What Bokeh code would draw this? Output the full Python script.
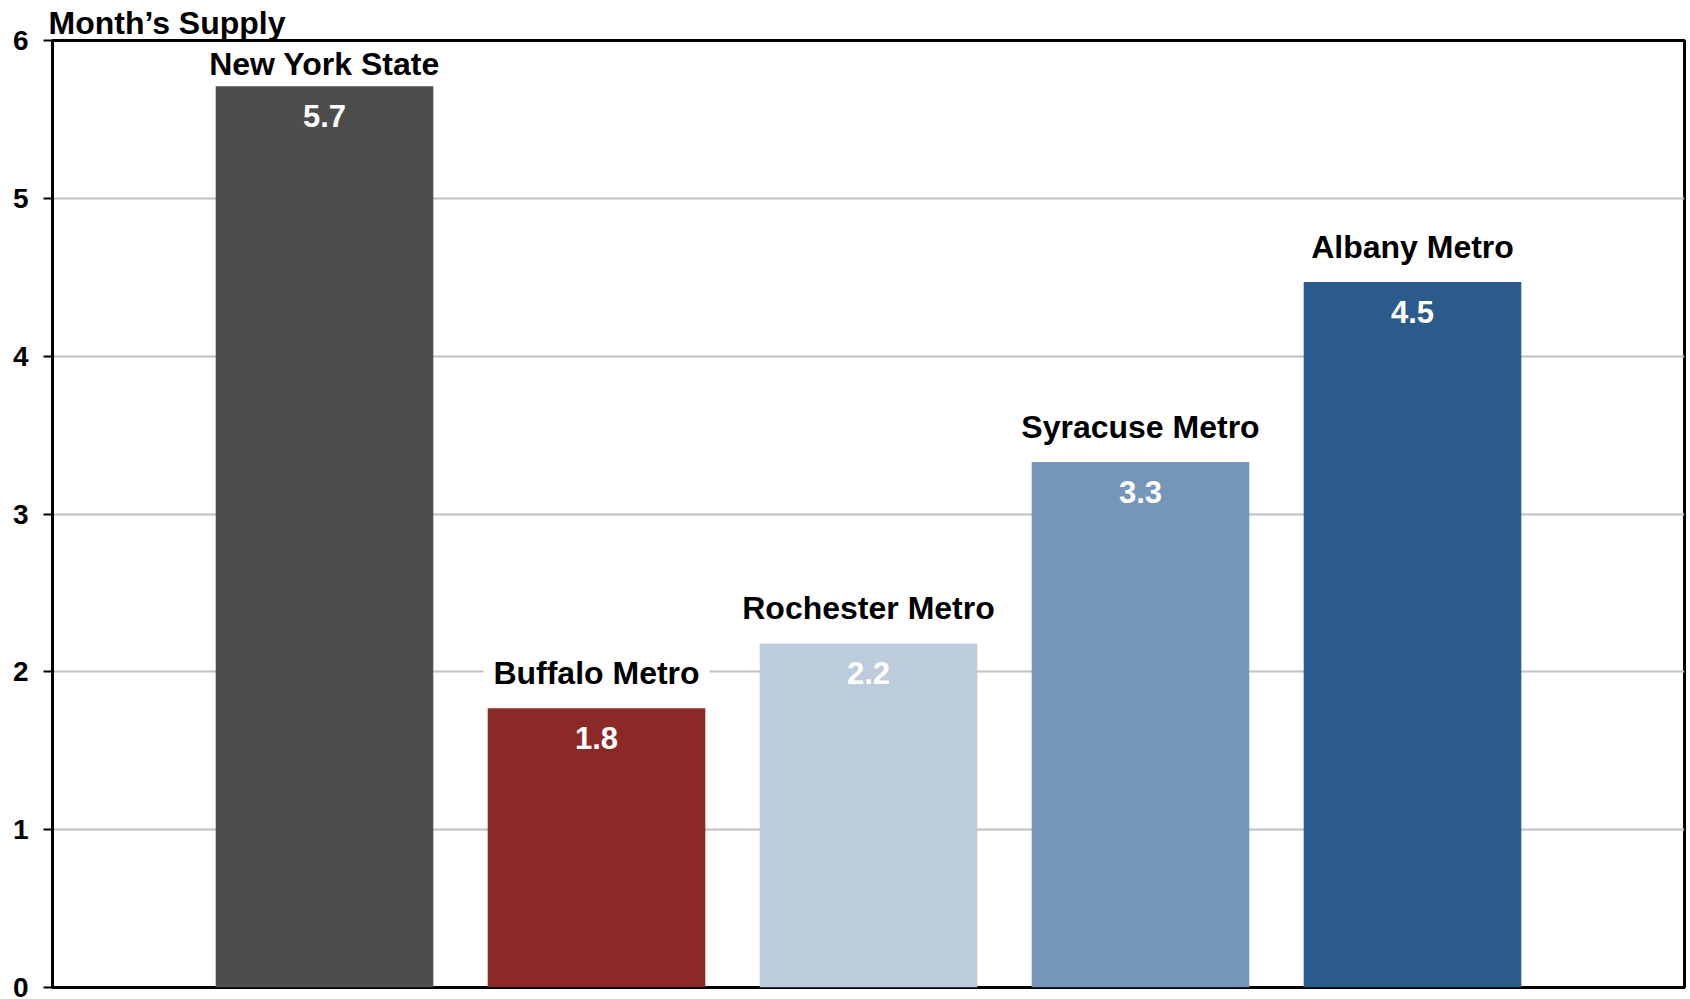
import numpy as np
from bokeh.plotting import figure
from bokeh.models import ColumnDataSource, LabelSet, Range1d, FixedTicker
from bokeh.core.properties import value
from bokeh.embed import file_html
from bokeh.resources import INLINE

# ---- data ----
categories = ["New York State", "Buffalo Metro", "Rochester Metro", "Syracuse Metro", "Albany Metro"]
supply = [5.71, 1.77, 2.18, 3.33, 4.47]
colors = ["#4d4d4d", "#8b2929", "#bdccdd", "#7596b8", "#2a5b8c"]
y_ticks = [0, 1, 2, 3, 4, 5, 6]
title_text = "Month\u2019s Supply"

FONT = "Liberation Sans"
W, H = 1688, 997
MB_L, MB_T, MB_R, MB_B = 52, 40, 4, 10
Y0, Y1 = 0, 6

vals = np.array(supply)
xs = np.arange(1, len(categories) + 1)
frame_h = H - MB_T - MB_B
px = (Y1 - Y0) / frame_h
label_y = np.minimum(vals + 35 * px, Y1 - 23 * px)

src = ColumnDataSource(dict(
    x=xs, top=vals, color=colors, cat=categories,
    label_y=label_y, txt=[f"{v:.1f}" for v in vals],
))

p = figure(width=W, height=H, x_range=Range1d(0, len(categories) + 1), y_range=Range1d(Y0, Y1),
           output_backend="svg", toolbar_location=None, title=title_text,
           min_border_left=MB_L, min_border_top=MB_T, min_border_right=MB_R, min_border_bottom=MB_B)

p.title.text_font = FONT
p.title.text_font_style = "bold"
p.title.text_font_size = "32px"
p.title.text_color = "black"
p.title.align = "left"
p.title.offset = -4
p.title.standoff = 0

# category labels first (white box hides gridlines), bars drawn on top of them
p.text(x="x", y="label_y", text="cat", source=src,
       text_align="center", text_baseline="alphabetic",
       text_font=value(FONT), text_font_style="bold", text_font_size="32px",
       text_color="black", background_fill_color="white", padding=(10, 1))

p.vbar(x="x", top="top", bottom=0, width=0.8, color="color", line_color=None, source=src)

p.xaxis.visible = False
p.xgrid.grid_line_color = None
p.ygrid.grid_line_color = "#c0c0c0"
p.ygrid.grid_line_width = 2
p.ygrid.ticker = FixedTicker(ticks=y_ticks)

ax = p.yaxis[0]
ax.ticker = FixedTicker(ticks=y_ticks)
ax.axis_line_width = 3
ax.axis_line_color = "black"
ax.major_tick_line_width = 2
ax.major_tick_line_color = "black"
ax.major_tick_out = 9
ax.major_tick_in = 0
ax.minor_tick_line_color = None
ax.major_label_text_font = FONT
ax.major_label_text_font_style = "bold"
ax.major_label_text_font_size = "28px"
ax.major_label_text_color = "black"
ax.major_label_standoff = 15

p.outline_line_color = "black"
p.outline_line_width = 3
p.background_fill_color = "white"
p.border_fill_color = "white"

val_labels = LabelSet(x="x", y="top", text="txt", source=src, y_offset=-41,
                      text_align="center", text_baseline="alphabetic",
                      text_font=value(FONT), text_font_style="bold", text_font_size="31px",
                      text_color="white")
p.add_layout(val_labels)

open("out.html", "w").write(file_html(p, INLINE))
